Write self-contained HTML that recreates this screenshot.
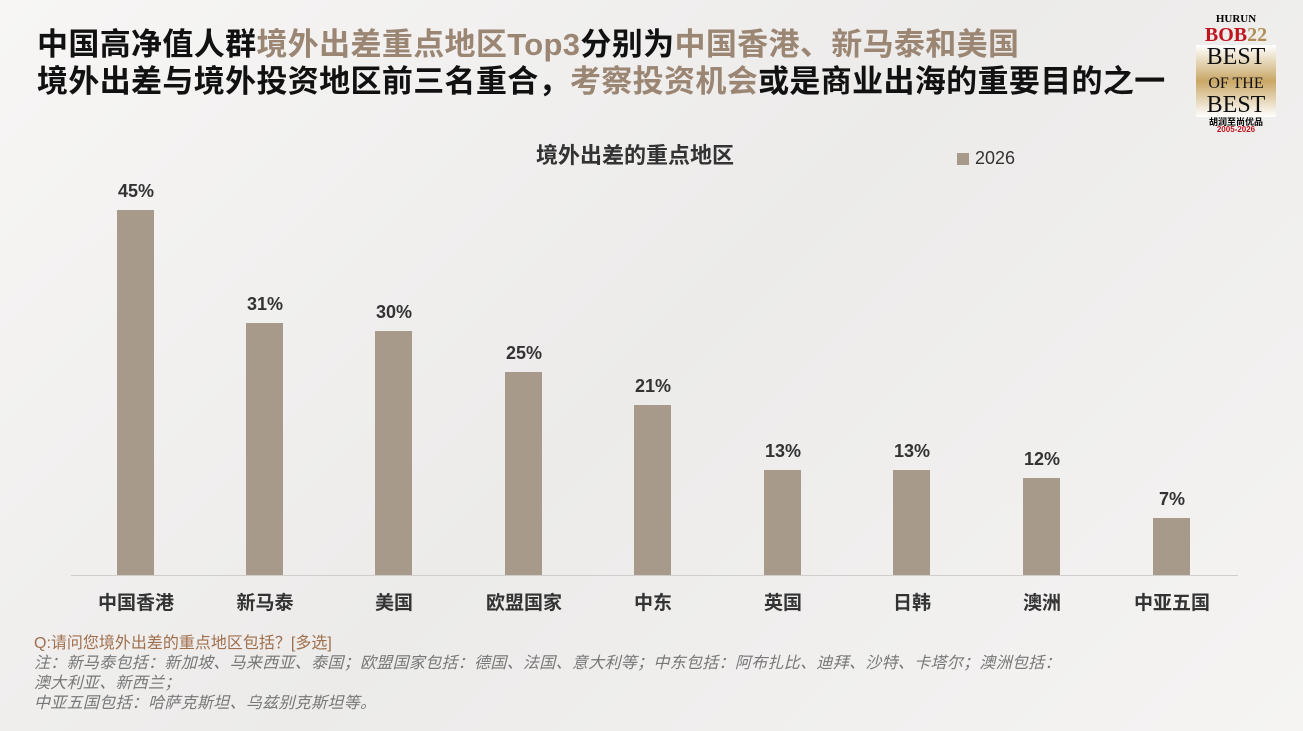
<!DOCTYPE html>
<html><head><meta charset="utf-8"><style>
body{margin:0;width:1303px;height:731px;overflow:hidden;background:linear-gradient(135deg,#f7f6f5,#ecebea 50%,#f5f4f3);font-family:"Liberation Sans","Noto Sans CJK SC",sans-serif;position:relative}
.t{position:absolute;left:37px;font-size:31px;font-weight:bold;color:#111;white-space:nowrap;line-height:36px;letter-spacing:0.35px}
.b{color:#9b8573}
.bar{position:absolute;width:37px;background:#a89a8a}
.v{position:absolute;width:80px;text-align:center;font-size:18px;font-weight:bold;color:#333}
.c{position:absolute;width:120px;text-align:center;font-size:19px;font-weight:bold;color:#333;top:588px}
.n{position:absolute;left:34px;font-size:16px;color:#777;font-style:italic;white-space:nowrap;line-height:20px;letter-spacing:0.3px}
</style></head><body>
<div class="t" style="top:27px">中国高净值人群<span class="b">境外出差重点地区Top3</span>分别为<span class="b">中国香港、新马泰和美国</span></div>
<div class="t" style="top:64px">境外出差与境外投资地区前三名重合，<span class="b">考察投资机会</span>或是商业出海的重要目的之一</div>
<div style="position:absolute;left:1196px;top:14px;width:80px;text-align:center;font-family:'Liberation Serif',serif;line-height:1">
<div style="font-size:11px;font-weight:bold">HURUN</div>
<div style="font-size:20px;font-weight:bold;color:#c0141e">BOB<span style="color:#b08d55">22</span></div>
<div style="font-size:24px;color:#111;background:linear-gradient(#fff,#c9a766,#fff)">BEST<br><span style="font-size:16px">OF THE</span><br>BEST</div>
<div style="font-size:9px;font-weight:bold;font-family:'Noto Sans CJK SC',sans-serif">胡润至尚优品</div>
<div style="font-size:8px;color:#c0141e;font-weight:bold;font-family:'Liberation Sans',sans-serif">2005-2026</div></div>
<div style="position:absolute;left:536px;top:138px;font-size:22px;font-weight:bold;color:#333">境外出差的重点地区</div>
<div style="position:absolute;left:957px;top:153px;width:12px;height:12px;background:#a89a8a"></div>
<div style="position:absolute;left:975px;top:148px;font-size:18px;color:#333">2026</div>
<div style="position:absolute;left:71px;top:575px;width:1167px;height:1px;background:#d0cdca"></div>
<div class="bar" style="left:117px;top:210px;height:365px"></div><div class="v" style="left:96px;top:181px">45%</div><div class="c" style="left:76px">中国香港</div>
<div class="bar" style="left:246px;top:323px;height:252px"></div><div class="v" style="left:225px;top:294px">31%</div><div class="c" style="left:205px">新马泰</div>
<div class="bar" style="left:375px;top:331px;height:244px"></div><div class="v" style="left:354px;top:302px">30%</div><div class="c" style="left:334px">美国</div>
<div class="bar" style="left:505px;top:372px;height:203px"></div><div class="v" style="left:484px;top:343px">25%</div><div class="c" style="left:464px">欧盟国家</div>
<div class="bar" style="left:634px;top:405px;height:170px"></div><div class="v" style="left:613px;top:376px">21%</div><div class="c" style="left:593px">中东</div>
<div class="bar" style="left:764px;top:470px;height:105px"></div><div class="v" style="left:743px;top:441px">13%</div><div class="c" style="left:723px">英国</div>
<div class="bar" style="left:893px;top:470px;height:105px"></div><div class="v" style="left:872px;top:441px">13%</div><div class="c" style="left:852px">日韩</div>
<div class="bar" style="left:1023px;top:478px;height:97px"></div><div class="v" style="left:1002px;top:449px">12%</div><div class="c" style="left:982px">澳洲</div>
<div class="bar" style="left:1153px;top:518px;height:57px"></div><div class="v" style="left:1132px;top:489px">7%</div><div class="c" style="left:1112px">中亚五国</div>
<div class="n" style="top:634px;color:#a0704d;font-style:normal;letter-spacing:0">Q:请问您境外出差的重点地区包括？[多选]</div>
<div class="n" style="top:654px">注：新马泰包括：新加坡、马来西亚、泰国；欧盟国家包括：德国、法国、意大利等；中东包括：阿布扎比、迪拜、沙特、卡塔尔；澳洲包括：</div>
<div class="n" style="top:674px">澳大利亚、新西兰；</div>
<div class="n" style="top:694px">中亚五国包括：哈萨克斯坦、乌兹别克斯坦等。</div>
</body></html>
